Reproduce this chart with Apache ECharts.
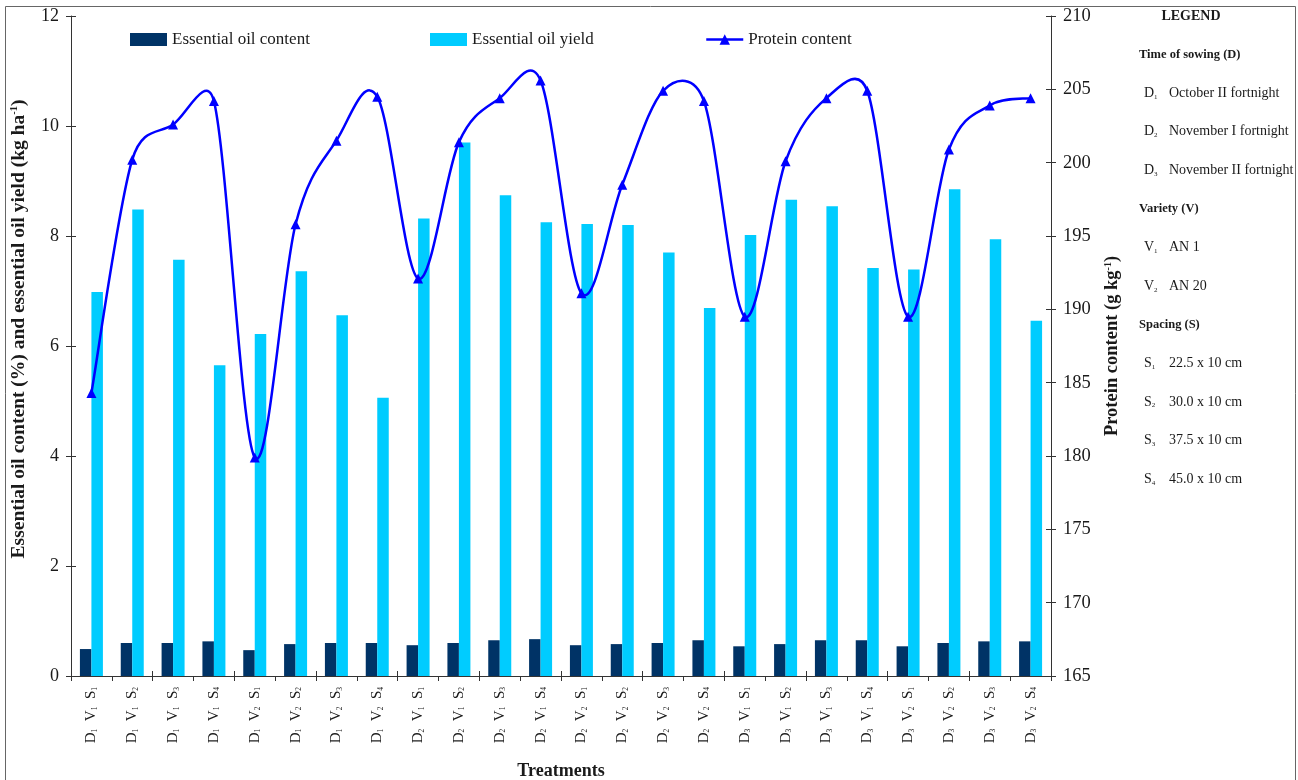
<!DOCTYPE html>
<html><head><meta charset="utf-8">
<script src="https://cdn.jsdelivr.net/npm/echarts@6/dist/echarts.min.js"></script>
<style>html,body{margin:0;padding:0;background:#fff}#c{width:1298px;height:780px}</style>
</head><body><div id="c"></div>
<script>
// ---- data ----
const categories = [
  'D1 V1 S1','D1 V1 S2','D1 V1 S3','D1 V1 S4',
  'D1 V2 S1','D1 V2 S2','D1 V2 S3','D1 V2 S4',
  'D2 V1 S1','D2 V1 S2','D2 V1 S3','D2 V1 S4',
  'D2 V2 S1','D2 V2 S2','D2 V2 S3','D2 V2 S4',
  'D3 V1 S1','D3 V1 S2','D3 V1 S3','D3 V1 S4',
  'D3 V2 S1','D3 V2 S2','D3 V2 S3','D3 V2 S4'
];
const oilContent = [0.49,0.60,0.60,0.63, 0.47,0.58,0.60,0.60, 0.56,0.60,0.65,0.67, 0.56,0.58,0.60,0.65, 0.54,0.58,0.65,0.65, 0.54,0.60,0.63,0.63];
const oilYield   = [6.98,8.48,7.57,5.65, 6.22,7.36,6.56,5.06, 8.32,9.70,8.74,8.25, 8.22,8.20,7.70,6.69, 8.02,8.66,8.54,7.42, 7.39,8.85,7.94,6.46];
const protein    = [184.3,200.2,202.6,204.2, 179.9,195.8,201.5,204.5, 192.1,201.4,204.4,205.6, 191.1,198.5,204.9,204.2, 189.5,200.1,204.4,204.9, 189.5,200.9,203.9,204.4];
const seriesNames = ['Essential oil content','Essential oil yield','Protein content'];
const leftAxis = {min: 0, max: 12, interval: 2};
const rightAxis = {min: 165, max: 210, interval: 5};
const panelEntries = [
  ['head','LEGEND'],
  ['sub','Time of sowing (D)'],
  ['item','D1','October II fortnight'],
  ['item','D2','November I fortnight'],
  ['item','D3','November II fortnight'],
  ['sub','Variety (V)'],
  ['item','V1','AN 1'],
  ['item','V2','AN 20'],
  ['sub','Spacing (S)'],
  ['item','S1','22.5 x 10 cm'],
  ['item','S2','30.0 x 10 cm'],
  ['item','S3','37.5 x 10 cm'],
  ['item','S4','45.0 x 10 cm']
];

const FONT = '"Liberation Serif","Times New Roman",serif';
const TXT = '#1a1a1a';
const BLUE = '#0000FF';
const chart = echarts.init(document.getElementById('c'));

function subFmt(v){
  return v.split(' ').map(p => '{n|' + p[0] + '}{s|' + p.slice(1) + '}').join('{n|  }');
}

const graphics = [{
  type:'rect', left:3, top:4, shape:{x:0,y:0,width:1290,height:776},
  style:{fill:'none', stroke:'#666', lineWidth:1}, silent:true, z:-1
},{
  type:'text', x:19, y:329, rotation:Math.PI/2,
  style:{text:'{t|Essential oil content (%) and essential oil yield (kg ha}{u|-1}{t|)}',
    align:'center', verticalAlign:'middle', fill:TXT,
    rich:{t:{fontFamily:FONT, fontSize:19.5, fontWeight:'bold', fill:TXT},
          u:{fontFamily:FONT, fontSize:10.5, fontWeight:'bold', fill:TXT, verticalAlign:'top'}}}
}];
panelEntries.forEach((e,i) => {
  const y = 16 + i*38.6;
  if (e[0]==='head') {
    graphics.push({type:'text', x:1191, y:y, style:{text:e[1], font:'bold 14px '+FONT, fill:TXT, align:'center', verticalAlign:'middle'}});
  } else if (e[0]==='sub') {
    graphics.push({type:'text', x:1139, y:y, style:{text:e[1], font:'bold 12.5px '+FONT, fill:TXT, align:'left', verticalAlign:'middle'}});
  } else {
    graphics.push({type:'text', x:1144, y:y, style:{
      text:'{n|'+e[1][0]+'}{s|'+e[1].slice(1)+'}', fill:TXT, align:'left', verticalAlign:'middle',
      rich:{n:{font:'14px '+FONT, fill:TXT}, s:{font:'7px '+FONT, fill:TXT, verticalAlign:'bottom', padding:[6,0,0,0]}}
    }});
    graphics.push({type:'text', x:1169, y:y, style:{text:e[2], font:'14px '+FONT, fill:TXT, align:'left', verticalAlign:'middle'}});
  }
});

// Excel-like smoothed curve through the protein points (drawn via axis coords)
function renderSmooth(params, api){
  const i = params.dataIndex, n = protein.length;
  if (i >= n-1) return null;
  const P = j => { const k = Math.max(0, Math.min(n-1, j)); return api.coord([k, protein[k]]); };
  const p0 = P(i-1), p1 = P(i), p2 = P(i+1), p3 = P(i+2);
  const seg = Math.hypot(p2[0]-p1[0], p2[1]-p1[1]);
  const lim = 0.65*seg;
  function tan(a, b){
    let tx = (b[0]-a[0])/6, ty = (b[1]-a[1])/6;
    const l = Math.hypot(tx, ty);
    if (l > lim && l > 0) { tx *= lim/l; ty *= lim/l; }
    return [tx, ty];
  }
  const t1 = tan(p0, p2), t2 = tan(p1, p3);
  return {type:'bezierCurve', shape:{x1:p1[0], y1:p1[1], x2:p2[0], y2:p2[1],
    cpx1:p1[0]+t1[0], cpy1:p1[1]+t1[1], cpx2:p2[0]-t2[0], cpy2:p2[1]-t2[1]},
    style:{fill:'none', stroke:BLUE, lineWidth:2.5, lineCap:'round'}};
}

const axisLine = {show:true, lineStyle:{color:'#333', width:1}};
const legendText = {fontFamily:FONT, fontSize:17, color:TXT};
const option = {
  animation:false,
  backgroundColor:'#fff',
  textStyle:{fontFamily:FONT},
  grid:{left:71, right:247, top:16, bottom:104, containLabel:false, outerBoundsMode:'none'},
  legend:[
    {data:[seriesNames[0]], left:130, top:31, padding:0, icon:'rect', itemWidth:37, itemHeight:13, itemGap:0, textStyle:legendText},
    {data:[seriesNames[1]], left:430, top:31, padding:0, icon:'rect', itemWidth:37, itemHeight:13, itemGap:0, textStyle:legendText},
    {data:[seriesNames[2]], left:705, top:31, padding:0, itemWidth:37, itemHeight:13, itemGap:0, textStyle:legendText,
     lineStyle:{color:BLUE, width:2.5, opacity:1}}
  ],
  xAxis:[{
    type:'category', data:categories, position:'bottom',
    axisLine:axisLine, axisTick:{show:true, length:5, lineStyle:{color:'#333'}},
    axisLabel:{rotate:90, margin:11, interval:0, formatter:subFmt, color:TXT,
      rich:{n:{fontFamily:FONT, fontSize:15, color:TXT}, s:{fontFamily:FONT, fontSize:7.5, color:TXT, verticalAlign:'bottom'}}},
    name:'Treatments', nameLocation:'middle', nameGap:86,
    nameTextStyle:{fontFamily:FONT, fontSize:18, fontWeight:'bold', color:TXT},
    splitLine:{show:false}
  },{
    type:'category', data:categories, position:'bottom',
    axisLine:{show:false}, axisTick:{show:true, inside:true, length:5, lineStyle:{color:'#333'}},
    axisLabel:{show:false}, splitLine:{show:false}
  }],
  yAxis:[{
    type:'value', position:'left', min:leftAxis.min, max:leftAxis.max, interval:leftAxis.interval,
    axisLine:axisLine, axisTick:{show:true, length:5, lineStyle:{color:'#333'}},
    axisLabel:{fontFamily:FONT, fontSize:18, color:TXT, margin:12},
    splitLine:{show:false}
  },{
    type:'value', position:'right', min:rightAxis.min, max:rightAxis.max, interval:rightAxis.interval,
    axisLine:axisLine, axisTick:{show:true, length:5, lineStyle:{color:'#333'}},
    axisLabel:{fontFamily:FONT, fontSize:18.5, color:TXT, margin:12},
    splitLine:{show:false},
    name:'{t|Protein content (g kg}{u|-1}{t|)}',
    nameLocation:'middle', nameGap:52, nameRotate:90,
    nameTextStyle:{rich:{t:{fontFamily:FONT, fontSize:18.5, fontWeight:'bold', color:TXT},
                         u:{fontFamily:FONT, fontSize:10, fontWeight:'bold', color:TXT, verticalAlign:'top'}}}
  },{
    type:'value', position:'left', min:leftAxis.min, max:leftAxis.max, interval:leftAxis.interval,
    axisLine:{show:false}, axisTick:{show:true, inside:true, length:5, lineStyle:{color:'#333'}},
    axisLabel:{show:false}, splitLine:{show:false}
  },{
    type:'value', position:'right', min:rightAxis.min, max:rightAxis.max, interval:rightAxis.interval,
    axisLine:{show:false}, axisTick:{show:true, inside:true, length:5, lineStyle:{color:'#333'}},
    axisLabel:{show:false}, splitLine:{show:false}
  }],
  series:[
    {name:seriesNames[0], type:'bar', data:oilContent, yAxisIndex:0, barWidth:11.5, barGap:'0%',
     itemStyle:{color:'#003366'}},
    {name:seriesNames[1], type:'bar', data:oilYield, yAxisIndex:0, barWidth:11.5, barGap:'0%',
     itemStyle:{color:'#00CCFF'}},
    {name:'protein-curve', type:'custom', yAxisIndex:1, data:protein.map((v,i)=>[i,v]),
     encode:{x:0, y:1}, renderItem:renderSmooth, z:4, silent:true},
    {name:seriesNames[2], type:'line', data:protein, yAxisIndex:1,
     symbol:'triangle', symbolSize:10, showSymbol:true,
     lineStyle:{color:BLUE, width:2.5, opacity:0}, itemStyle:{color:BLUE}, z:5}
  ],
  graphic:graphics
};
chart.setOption(option);
</script></body></html>
